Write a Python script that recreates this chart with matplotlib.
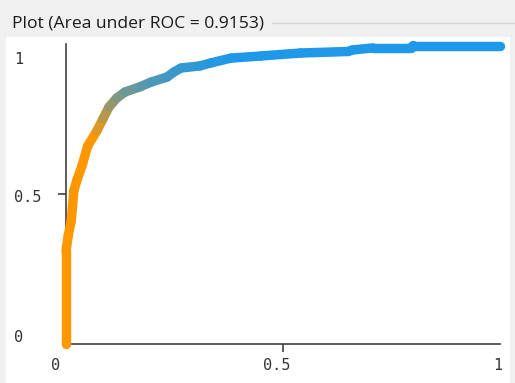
import numpy as np
import matplotlib
matplotlib.use("Agg")
import matplotlib.pyplot as plt
from matplotlib.collections import LineCollection
from matplotlib.patches import Rectangle
from matplotlib.lines import Line2D

# ROC curve points
fpr = [0.000, 0.000, 0.005, 0.012, 0.018, 0.026, 0.036, 0.050, 0.071, 0.085,
       0.099, 0.117, 0.136, 0.170, 0.196, 0.233, 0.249, 0.265, 0.309, 0.334,
       0.380, 0.449, 0.541, 0.650, 0.660, 0.707, 0.795, 0.800, 1.000]
tpr = [0.000, 0.310, 0.360, 0.410, 0.510, 0.550, 0.590, 0.660, 0.710, 0.750,
       0.790, 0.820, 0.840, 0.857, 0.873, 0.890, 0.907, 0.920, 0.927, 0.937,
       0.953, 0.960, 0.970, 0.975, 0.980, 0.987, 0.987, 0.995, 0.995]
title = "Plot (Area under ROC = 0.9153)"
x_ticks = [0, 0.5, 1]
y_ticks = [0, 0.5, 1]
tick_labels = ["0", "0.5", "1"]

W, H = 515, 383
fig = plt.figure(figsize=(W / 100, H / 100), dpi=100)
fig.patch.set_facecolor("#f0f0f0")

# white panel
fig.patches.append(Rectangle((6 / W, 0), 504 / W, (H - 37) / H,
                             transform=fig.transFigure, facecolor="white",
                             edgecolor="none", zorder=-5))
# group box line
fig.lines.append(Line2D([272 / W, 1.0], [1 - 22.5 / H, 1 - 22.5 / H],
                        transform=fig.transFigure, color="#d4d4d4", lw=1,
                        zorder=-4))
fig.text(12 / W, 1 - 23 / H, title, ha="left", va="center",
         fontsize=12.6, family="Open Sans", color="#1a1a1a")

ax = fig.add_axes([66 / W, (H - 344) / H, 434 / W, 300 / H])
ax.set_zorder(2)
ax.set_xlim(0, 1)
ax.set_ylim(0, 1)
ax.patch.set_alpha(0)
for s in ["top", "right"]:
    ax.spines[s].set_visible(False)
for s in ["left", "bottom"]:
    ax.spines[s].set_color("#404040")
    ax.spines[s].set_linewidth(1.2)
ax.set_xticks([0.5])
ax.set_yticks([0.5])
ax.set_xticklabels([])
ax.set_yticklabels([])
ax.tick_params(length=6, width=1.2, color="#404040")

# tick labels
mono = "DejaVu Sans Mono"
xoff = [-10, -6, -2]
for v, lab, o in zip(x_ticks, tick_labels, xoff):
    ax.annotate(lab, (v, 0), xycoords="data", xytext=(o, -22),
                textcoords="offset pixels", ha="center", va="center",
                fontsize=11, family=mono, color="#333333",
                annotation_clip=False)
yoff = [6, -4, -16]
for v, lab, o in zip(y_ticks, tick_labels, yoff):
    ax.annotate(lab, xy=(0, v), xycoords=("figure pixels", "data"),
                xytext=(14, o), textcoords="offset pixels",
                ha="left", va="center", fontsize=11, family=mono,
                color="#333333", annotation_clip=False)

# gradient coloured curve (colour ramp control points, style only)
c0 = np.array([255, 152, 0]) / 255
c1 = np.array([30, 152, 232]) / 255
ramp_x = [0.065, 0.10, 0.13, 0.18, 0.24, 0.31, 0.38]
ramp_t = [0.0, 0.42, 0.59, 0.73, 0.85, 0.93, 1.0]
pts = np.column_stack([fpr, tpr])
segs = np.stack([pts[:-1], pts[1:]], axis=1)
xm = (pts[:-1, 0] + pts[1:, 0]) / 2
t = np.interp(xm, ramp_x, ramp_t)
cols = [tuple(c0 * (1 - a) + c1 * a) for a in t]
lc = LineCollection(segs, colors=cols, linewidths=6.8, capstyle="round",
                    joinstyle="round", zorder=3, clip_on=False)
ax.add_collection(lc)

fig.savefig("out.png", dpi=100, facecolor=fig.get_facecolor())
